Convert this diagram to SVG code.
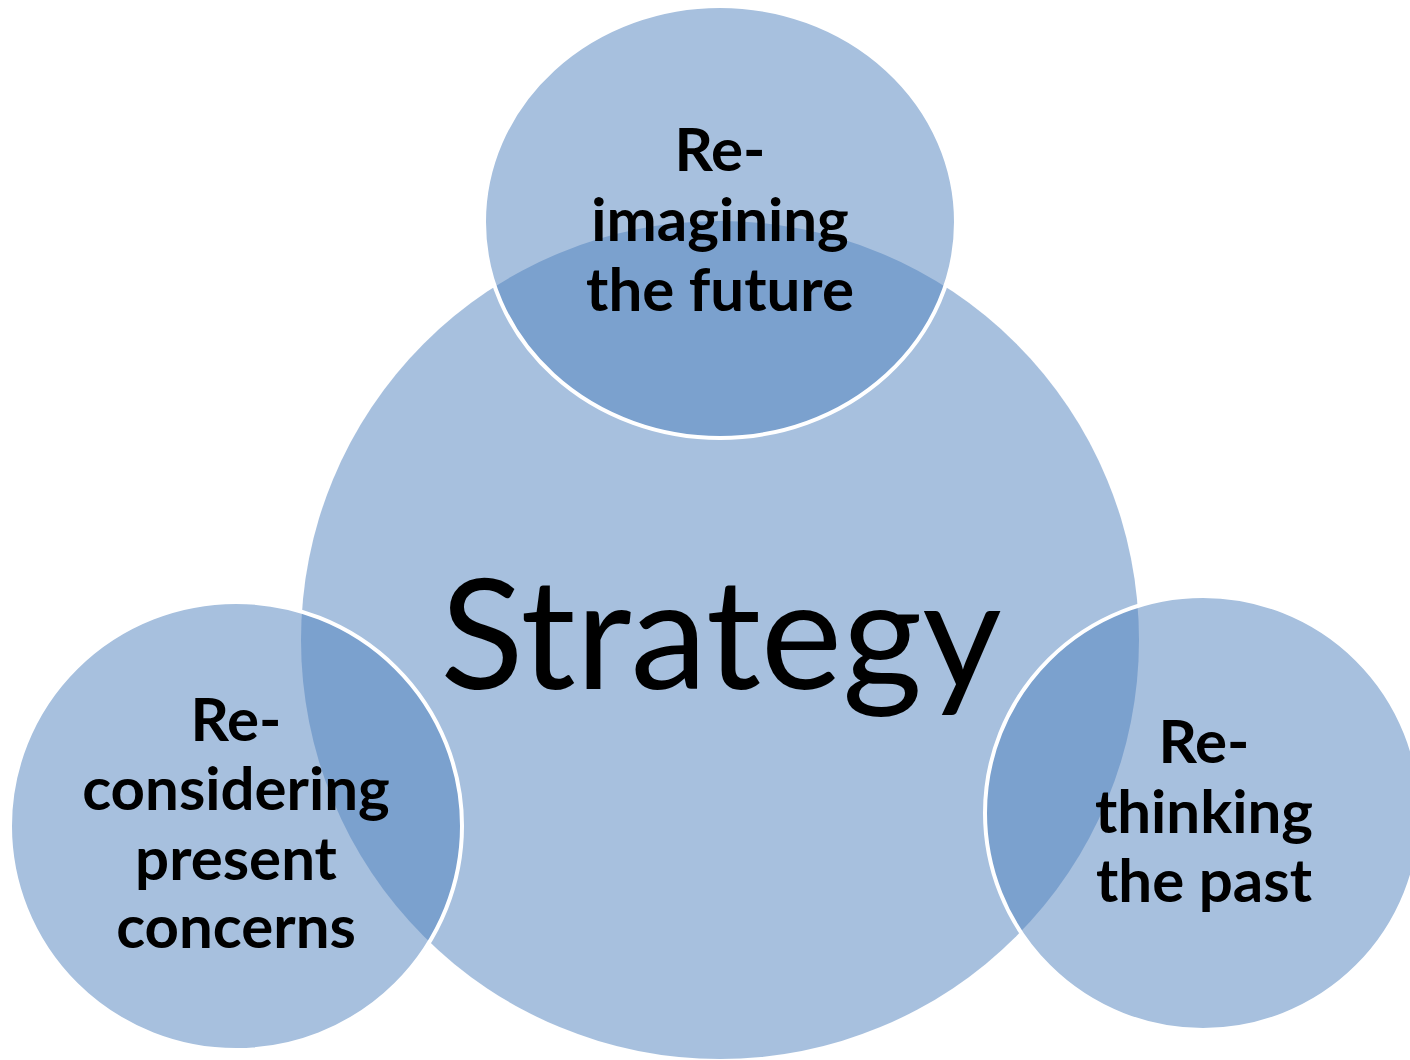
<svg xmlns="http://www.w3.org/2000/svg" width="1410" height="1060" viewBox="0 0 1410 1060">
<style>
.shape{fill:#4F81BD;fill-opacity:0.5}
.small{stroke:#FFFFFF;stroke-width:4}
.lbl{font-family:Lato,"Open Sans","Liberation Sans",sans-serif;font-weight:bold;font-size:60px;fill:#000;text-anchor:middle}
.big{font-family:Lato,"Open Sans","Liberation Sans",sans-serif;font-size:154px;fill:#000;text-anchor:middle}
</style>
<rect width="1410" height="1060" fill="#FFFFFF"/>
<g id="strategy">
<circle class="shape" cx="720" cy="640" r="419"/>
<text class="big" x="721" y="689">Strategy</text>
</g>
<g id="future">
<ellipse class="shape small" cx="720" cy="222" rx="236" ry="216"/>
<text class="lbl" x="720" y="171">Re-</text>
<text class="lbl" x="720" y="241">imagining</text>
<text class="lbl" x="720" y="311">the future</text>
</g>
<g id="present">
<ellipse class="shape small" cx="236" cy="826" rx="226" ry="224"/>
<text class="lbl" x="236" y="741">Re-</text>
<text class="lbl" x="236" y="810">considering</text>
<text class="lbl" x="236" y="880">present</text>
<text class="lbl" x="236" y="948">concerns</text>
</g>
<g id="past">
<ellipse class="shape small" cx="1203" cy="813" rx="218" ry="217"/>
<text class="lbl" x="1204" y="763">Re-</text>
<text class="lbl" x="1204" y="833">thinking</text>
<text class="lbl" x="1204" y="902">the past</text>
</g>
<g id="connectors"/>
</svg>
